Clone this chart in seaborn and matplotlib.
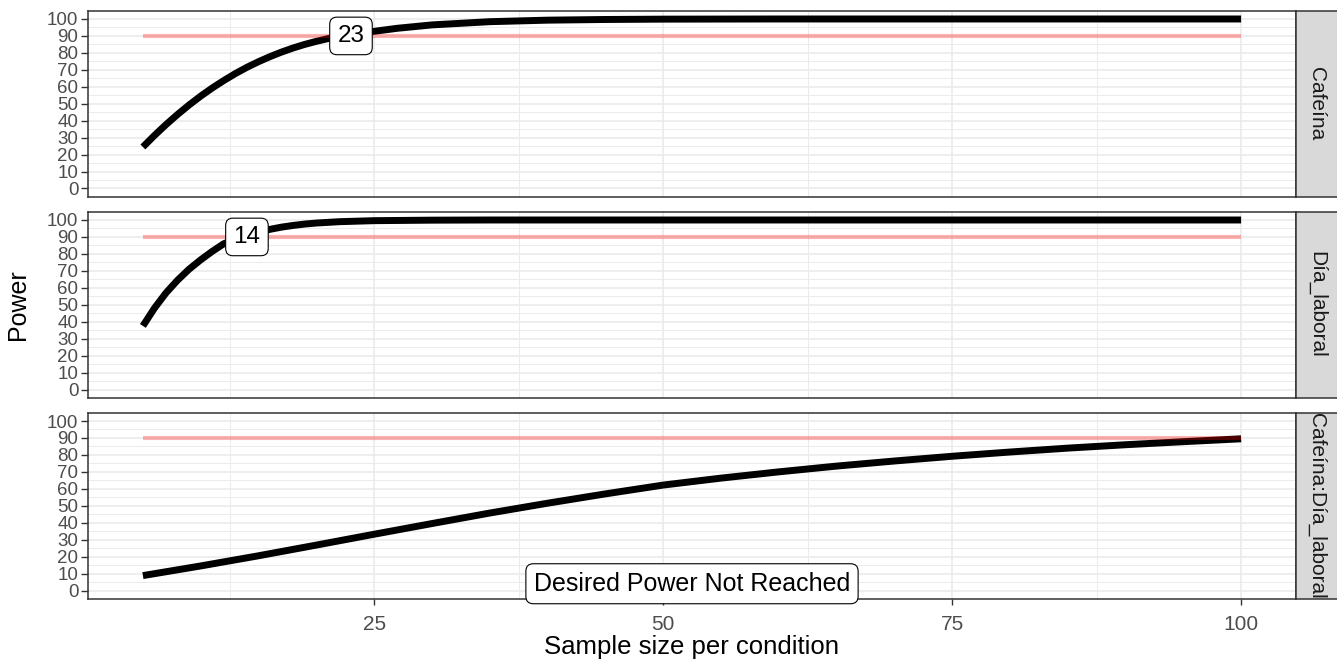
import pandas as pd
import seaborn as sns
import matplotlib.pyplot as plt
from matplotlib.patches import Rectangle

# power curves (sample size per condition -> power %)
n_cafeina = [5, 6, 7, 8, 9, 10, 11, 12, 13, 14, 15, 16, 17, 18, 19, 20, 21, 22, 23, 24, 25,
             27, 30, 35, 40, 45, 50, 60, 100]
pow_cafeina = [24.5, 31.3, 37.7, 43.7, 49.3, 54.5, 59.3, 63.7, 67.8, 71.5, 74.8, 77.8, 80.5,
               82.9, 85, 86.8, 88.4, 89.6, 90.6, 91.7, 92.7, 94.5, 96.5, 98.4, 99.3, 99.7,
               99.9, 100, 100]

n_dia = [5, 6, 7, 8, 9, 10, 11, 12, 13, 14, 15, 16, 17, 18, 19, 20, 22, 25, 30, 35, 100]
pow_dia = [37.5, 48, 57, 64.5, 71, 76.5, 81.5, 86, 88.5, 90.5, 92.7, 94.5, 95.8, 96.8, 97.6,
           98.2, 99, 99.6, 99.9, 100, 100]

n_inter = [5, 10, 15, 20, 25, 30, 35, 40, 45, 50, 55, 60, 65, 70, 75, 80, 85, 90, 95, 100]
pow_inter = [8.8, 14.5, 20.5, 26.8, 33.2, 39.5, 45.7, 51.5, 57, 62.2, 66.3, 70, 73.4, 76.4,
             79.2, 81.7, 84, 86, 87.8, 89.5]

terms = ['Cafeína', 'Día_laboral', 'Cafeína:Día_laboral']
target_power = 90
reached_n = [23, 14, None]
not_reached_text = 'Desired Power Not Reached'

y_ticks = list(range(0, 101, 10))
x_ticks = [25, 50, 75, 100]


def show_data():
    frames = []
    for term, n, p in zip(terms, [n_cafeina, n_dia, n_inter], [pow_cafeina, pow_dia, pow_inter]):
        frames.append(pd.DataFrame({'term': term, 'n': n, 'power': p}))
    all_data = pd.concat(frames, ignore_index=True)

    sns.set_theme(style='white')
    plt.rcParams['font.family'] = ['Liberation Sans', 'DejaVu Sans']

    fig, axes = plt.subplots(3, 1, figsize=(13.37, 6.63), dpi=100, sharex=True)
    fig.subplots_adjust(left=88 / 1337, right=1296 / 1337, top=1 - 10.5 / 663,
                        bottom=1 - 599 / 663, hspace=0.078)

    n_min, n_max = all_data['n'].min(), all_data['n'].max()
    span = n_max - n_min

    for i, (ax, term) in enumerate(zip(axes, terms)):
        sub = all_data[all_data['term'] == term]
        sns.lineplot(data=sub, x='n', y='power', ax=ax, color='black', linewidth=5,
                     solid_capstyle='butt', solid_joinstyle='round', legend=False)
        thr = pd.DataFrame({'n': [n_min, n_max], 'power': [target_power, target_power]})
        sns.lineplot(data=thr, x='n', y='power', ax=ax, color='red', alpha=0.3,
                     linewidth=3, solid_capstyle='butt', legend=False)

        box = dict(boxstyle='round,pad=0.32,rounding_size=0.3', facecolor='white',
                   edgecolor='black', linewidth=0.8)
        if reached_n[i] is not None:
            ax.text(reached_n[i], target_power, str(reached_n[i]), ha='center', va='center',
                    fontsize=17.5, color='black', bbox=box, zorder=5)
        else:
            ax.text(n_min + span / 2, 4, not_reached_text, ha='center', va='center',
                    fontsize=18, color='black', bbox=box, zorder=5)

        ax.set_xlim(n_min - 0.05 * span, n_max + 0.05 * span)
        ax.set_ylim(-5, 105)
        ax.set_yticks(y_ticks)
        ax.set_yticks([v + 5 for v in y_ticks[:-1]], minor=True)
        ax.set_xticks(x_ticks)
        ax.set_xticks([t - 12.5 for t in x_ticks], minor=True)
        ax.grid(True, which='major', color='#EBEBEB', linewidth=1.2)
        ax.grid(True, which='minor', color='#EBEBEB', linewidth=0.7)
        ax.set_axisbelow(True)
        ax.set_xlabel('')
        ax.set_ylabel('')
        for s in ax.spines.values():
            s.set_color('#333333')
            s.set_linewidth(1.1)
        ax.tick_params(axis='y', which='major', left=True, length=5, width=1,
                       color='#333333', labelsize=13.5, labelcolor='#4D4D4D', pad=2)
        ax.tick_params(which='minor', left=False, bottom=False)
        if i < 2:
            ax.tick_params(axis='x', which='major', bottom=False, labelbottom=False)
        else:
            ax.tick_params(axis='x', which='major', bottom=True, length=4.5, width=1,
                           color='#333333', labelsize=15, labelcolor='#4D4D4D', pad=7)

        # facet strip on the right
        ax.add_patch(Rectangle((1.0, 0.0), 0.05, 1.0, transform=ax.transAxes,
                               facecolor='#D9D9D9', edgecolor='#333333', linewidth=1.1,
                               clip_on=False, zorder=3))
        ax.text(1.0 + 21 / 1208, 0.5, term, transform=ax.transAxes, rotation=-90,
                ha='center', va='center', fontsize=15, color='#1A1A1A', clip_on=False, zorder=4)

    fig.text(18 / 1337, 1 - 305 / 663, 'Power', rotation=90, ha='center', va='center',
             fontsize=18, color='black')
    fig.text(692 / 1337, 1 - 647 / 663, 'Sample size per condition', ha='center', va='center',
             fontsize=18.5, color='black')

    plt.savefig('out.png', dpi=100)


if __name__ == "__main__":
    show_data()
